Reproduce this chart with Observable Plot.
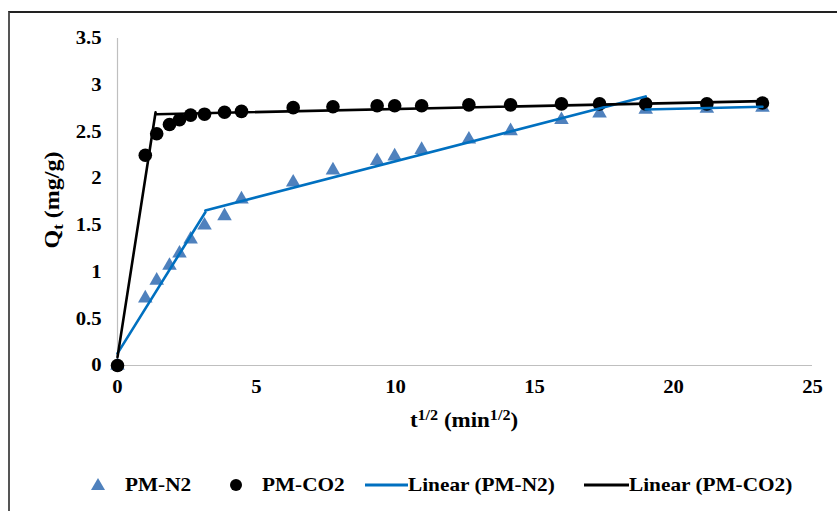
<!DOCTYPE html>
<html>
<head>
<meta charset="utf-8">
<script src="https://cdn.jsdelivr.net/npm/d3@7"></script>
<script src="https://cdn.jsdelivr.net/npm/@observablehq/plot@0.6"></script>
<style>
  html, body { margin: 0; padding: 0; background: #fff; }
  #wrap { position: relative; width: 837px; height: 511px; overflow: hidden; font-family: "Liberation Serif", "Times New Roman", serif; font-weight: bold; }
  #frame { position: absolute; left: 8px; top: 11px; width: 840px; height: 510px; border-top: 2px solid #222; border-left: 2px solid #555; }
  #chart { position: absolute; left: 0; top: 0; }
  .leg { position: absolute; top: 472px; font-size: 19px; line-height: 26px; color: #000; white-space: nowrap; }
  .legtext { transform: scaleX(1.12); transform-origin: 0 50%; }
  .leg svg { position: absolute; }
</style>
</head>
<body>
<div id="wrap">
  <div id="frame"></div>
  <div id="chart"></div>
  <div id="legend"></div>
</div>
<script>
// x values: t^(1/2) (min^1/2)
const tSqrt = [0, 1.0, 1.41, 1.87, 2.23, 2.63, 3.13, 3.85, 4.46, 6.32, 7.75, 9.34, 9.97, 10.94, 12.64, 14.14, 15.97, 17.34, 19.0, 21.2, 23.2];
// Qt (mg/g)
const qtN2  = [0, 0.72, 0.91, 1.07, 1.20, 1.35, 1.50, 1.60, 1.78, 1.96, 2.09, 2.19, 2.24, 2.31, 2.42, 2.51, 2.63, 2.70, 2.74, 2.75, 2.76];
const qtCO2 = [0, 2.25, 2.48, 2.58, 2.63, 2.68, 2.69, 2.71, 2.72, 2.76, 2.77, 2.78, 2.78, 2.78, 2.79, 2.79, 2.80, 2.80, 2.80, 2.80, 2.81];

// piecewise linear fits (segment endpoints)
const fitN2Seg  = [1, 1, 2, 2, 3, 3];
const fitN2X    = [0, 3.16, 3.16, 19.0, 19.0, 23.2];
const fitN2Y    = [0.13, 1.64, 1.66, 2.88, 2.74, 2.77];
const fitCO2Seg = [1, 1, 2, 2];
const fitCO2X   = [0, 1.37, 1.41, 23.2];
const fitCO2Y   = [0.09, 2.71, 2.69, 2.83];

const xTicks = [0, 5, 10, 15, 20, 25];
const yTicks = [0, 0.5, 1, 1.5, 2, 2.5, 3, 3.5];

const seriesNames = ["PM-N2", "PM-CO2", "Linear (PM-N2)", "Linear (PM-CO2)"];
const blueMarker = "#4f81bd";
const blueLine = "#0070c0";

const n2 = tSqrt.map((x, i) => ({x, y: qtN2[i]}));
const co2 = tSqrt.map((x, i) => ({x, y: qtCO2[i]}));
const fitN2 = fitN2X.map((x, i) => ({x, y: fitN2Y[i], s: fitN2Seg[i]}));
const fitCO2 = fitCO2X.map((x, i) => ({x, y: fitCO2Y[i], s: fitCO2Seg[i]}));

const W = 837, H = 455;
const plot = Plot.plot({
  width: W,
  height: H,
  marginLeft: 117,
  marginRight: 25,
  marginTop: 38,
  marginBottom: 90,
  style: {fontFamily: '"Liberation Serif", "Times New Roman", serif', fontWeight: "bold", fontSize: "18px", color: "#000", background: "transparent", overflow: "visible"},
  x: {domain: [0, 25], ticks: xTicks, tickFormat: d => String(d), tickSize: 0, tickPadding: 15, label: null},
  y: {domain: [0, 3.5], ticks: yTicks, tickFormat: d => String(d), tickSize: 0, tickPadding: 16, label: null},
  marks: [
    Plot.ruleY([0], {stroke: "#bfbfbf", strokeWidth: 1.2}),
    Plot.ruleX([0], {stroke: "#bfbfbf", strokeWidth: 1.2}),
    Plot.dot(n2, {x: "x", y: "y", symbol: "triangle", r: 5.4, fill: blueMarker, stroke: "none"}),
    Plot.dot(co2, {x: "x", y: "y", symbol: "circle", r: 6.8, fill: "#000", stroke: "none"}),
    Plot.line(fitN2, {x: "x", y: "y", z: "s", stroke: blueLine, strokeWidth: 2.6}),
    Plot.line(fitCO2, {x: "x", y: "y", z: "s", stroke: "#000", strokeWidth: 2.6})
  ]
});
document.getElementById("chart").appendChild(plot);

const svg = d3.select(plot);
// widen tick labels horizontally to match the stretched reference typeface
svg.selectAll("g[aria-label^='x-axis'] text, g[aria-label^='y-axis'] text").each(function() {
  const t = this.getAttribute("transform") || "";
  this.setAttribute("transform", (t + " scale(1.15,1)").trim());
});

// axis titles
const yt = svg.append("text")
  .attr("transform", "translate(59,200) rotate(-90) scale(1.2,1)")
  .attr("text-anchor", "middle")
  .attr("font-size", 20);
yt.append("tspan").text("Q");
yt.append("tspan").attr("font-size", 14).attr("dy", 4).text("t");
yt.append("tspan").attr("dy", -4).text(" (mg/g)");

const xt = svg.append("text")
  .attr("transform", "translate(464,427) scale(1.15,1)")
  .attr("text-anchor", "middle")
  .attr("font-size", 20);
xt.append("tspan").text("t");
xt.append("tspan").attr("font-size", 14).attr("dy", -7).text("1/2");
xt.append("tspan").attr("dy", 7).text(" (min");
xt.append("tspan").attr("font-size", 14).attr("dy", -7).text("1/2");
xt.append("tspan").attr("dy", 7).text(")");

// legend
const legend = d3.select("#legend");
const items = [
  {name: seriesNames[0], left: 90, textLeft: 125, kind: "tri"},
  {name: seriesNames[1], left: 228, textLeft: 262, kind: "dot"},
  {name: seriesNames[2], left: 364, textLeft: 408, kind: "blue"},
  {name: seriesNames[3], left: 584, textLeft: 629, kind: "black"}
];
items.forEach(it => {
  const sw = legend.append("div").attr("class", "leg").style("left", it.left + "px").style("width", "50px").style("height", "26px");
  const s = sw.append("svg").attr("width", 50).attr("height", 26).style("left", "0px").style("top", "0px");
  if (it.kind === "tri") s.append("path").attr("d", "M8,6 L15,18 L1,18 Z").attr("fill", blueMarker);
  if (it.kind === "dot") s.append("circle").attr("cx", 8).attr("cy", 13).attr("r", 6).attr("fill", "#000");
  if (it.kind === "blue") s.append("line").attr("x1", 1).attr("x2", 44).attr("y1", 13).attr("y2", 13).attr("stroke", blueLine).attr("stroke-width", 3);
  if (it.kind === "black") s.append("line").attr("x1", 0).attr("x2", 45).attr("y1", 13).attr("y2", 13).attr("stroke", "#000").attr("stroke-width", 3);
  legend.append("div").attr("class", "leg legtext").style("left", it.textLeft + "px").text(it.name);
});
</script>
</body>
</html>
